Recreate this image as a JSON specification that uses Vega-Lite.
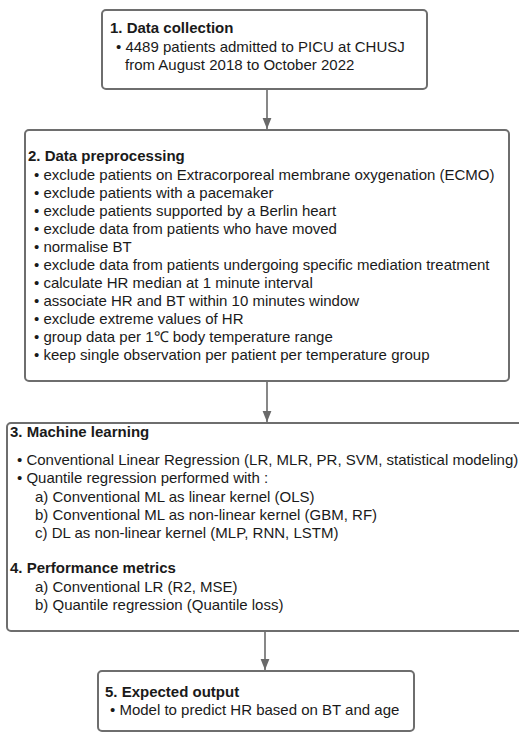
{
  "$schema": "https://vega.github.io/schema/vega-lite/v6.json",
  "width": 519,
  "height": 733,
  "autosize": "none",
  "padding": 0,
  "background": "white",
  "config": {"view": {"stroke": null}},
  "datasets": {
    "boxes": [
      {"step": "1", "x1": 102, "y1": 10, "x2": 427, "y2": 89},
      {"step": "2", "x1": 25, "y1": 130, "x2": 509, "y2": 381},
      {"step": "3", "x1": 7, "y1": 423, "x2": 530, "y2": 631},
      {"step": "5", "x1": 98, "y1": 671, "x2": 414, "y2": 731}
    ],
    "arrows": [
      {"x": 267, "from": 89, "to": 129},
      {"x": 267, "from": 381, "to": 422},
      {"x": 265, "from": 631, "to": 670}
    ],
    "texts": [
      {"kind": "title", "x": 110, "y": 33, "label": "1. Data collection"},
      {"kind": "item", "x": 116, "y": 52, "label": "• 4489 patients admitted to PICU at CHUSJ"},
      {"kind": "item", "x": 125, "y": 70, "label": "from August 2018 to October 2022"},
      {"kind": "title", "x": 28, "y": 161, "label": "2. Data preprocessing"},
      {"kind": "item", "x": 34, "y": 180, "label": "• exclude patients on Extracorporeal membrane oxygenation (ECMO)"},
      {"kind": "item", "x": 34, "y": 198, "label": "• exclude patients with a pacemaker"},
      {"kind": "item", "x": 34, "y": 216, "label": "• exclude patients supported by a Berlin heart"},
      {"kind": "item", "x": 34, "y": 234, "label": "• exclude data from patients who have moved"},
      {"kind": "item", "x": 34, "y": 252, "label": "• normalise BT"},
      {"kind": "item", "x": 34, "y": 270, "label": "• exclude data from patients undergoing specific mediation treatment"},
      {"kind": "item", "x": 34, "y": 288, "label": "• calculate HR median at 1 minute interval"},
      {"kind": "item", "x": 34, "y": 306, "label": "• associate HR and BT within 10 minutes window"},
      {"kind": "item", "x": 34, "y": 324, "label": "• exclude extreme values of HR"},
      {"kind": "item", "x": 34, "y": 342, "label": "• group data per 1℃ body temperature range"},
      {"kind": "item", "x": 34, "y": 360, "label": "• keep single observation per patient per temperature group"},
      {"kind": "title", "x": 10, "y": 437, "label": "3. Machine learning"},
      {"kind": "item", "x": 17, "y": 465, "label": "• Conventional Linear Regression (LR, MLR, PR, SVM, statistical modeling)"},
      {"kind": "item", "x": 17, "y": 483, "label": "• Quantile regression performed with :"},
      {"kind": "item", "x": 35, "y": 502, "label": "a) Conventional ML as linear kernel (OLS)"},
      {"kind": "item", "x": 35, "y": 520, "label": "b) Conventional ML as non-linear kernel (GBM, RF)"},
      {"kind": "item", "x": 35, "y": 538, "label": "c) DL as non-linear kernel (MLP, RNN, LSTM)"},
      {"kind": "title", "x": 10, "y": 573, "label": "4. Performance metrics"},
      {"kind": "item", "x": 35, "y": 592, "label": "a) Conventional LR (R2, MSE)"},
      {"kind": "item", "x": 35, "y": 610, "label": "b) Quantile regression (Quantile loss)"},
      {"kind": "title", "x": 105, "y": 697, "label": "5. Expected output"},
      {"kind": "item", "x": 110, "y": 715, "label": "• Model to predict HR based on BT and age"}
    ]
  },
  "layer": [
    {
      "data": {"name": "arrows"},
      "mark": {"type": "rule", "stroke": "#6a6a6a", "strokeWidth": 1.6},
      "encoding": {
        "x": {"field": "x", "type": "quantitative", "scale": {"domain": [0, 519], "nice": false, "zero": false}, "axis": null},
        "y": {"field": "from", "type": "quantitative", "scale": {"domain": [0, 733], "nice": false, "zero": false, "reverse": true}, "axis": null},
        "y2": {"field": "to"}
      }
    },
    {
      "data": {"name": "arrows"},
      "mark": {"type": "point", "shape": "M -0.8 -2 L 0.8 -2 L 0 0 Z", "filled": true, "fill": "#6a6a6a", "stroke": null, "size": 121, "opacity": 1},
      "encoding": {
        "x": {"field": "x", "type": "quantitative"},
        "y": {"field": "to", "type": "quantitative"}
      }
    },
    {
      "data": {"name": "boxes"},
      "mark": {"type": "rect", "fill": "white", "stroke": "#6e6e6e", "strokeWidth": 2, "cornerRadius": 4},
      "encoding": {
        "x": {"field": "x1", "type": "quantitative"},
        "x2": {"field": "x2"},
        "y": {"field": "y1", "type": "quantitative"},
        "y2": {"field": "y2"}
      }
    },
    {
      "data": {"name": "texts"},
      "transform": [{"filter": "datum.kind === 'title'"}],
      "mark": {"type": "text", "align": "left", "baseline": "alphabetic", "font": "Liberation Sans", "fontSize": 15, "fontWeight": "bold", "fill": "#1a1a1a"},
      "encoding": {
        "x": {"field": "x", "type": "quantitative"},
        "y": {"field": "y", "type": "quantitative"},
        "text": {"field": "label"}
      }
    },
    {
      "data": {"name": "texts"},
      "transform": [{"filter": "datum.kind === 'item'"}],
      "mark": {"type": "text", "align": "left", "baseline": "alphabetic", "font": "Liberation Sans", "fontSize": 15, "fill": "#1a1a1a"},
      "encoding": {
        "x": {"field": "x", "type": "quantitative"},
        "y": {"field": "y", "type": "quantitative"},
        "text": {"field": "label"}
      }
    }
  ]
}
